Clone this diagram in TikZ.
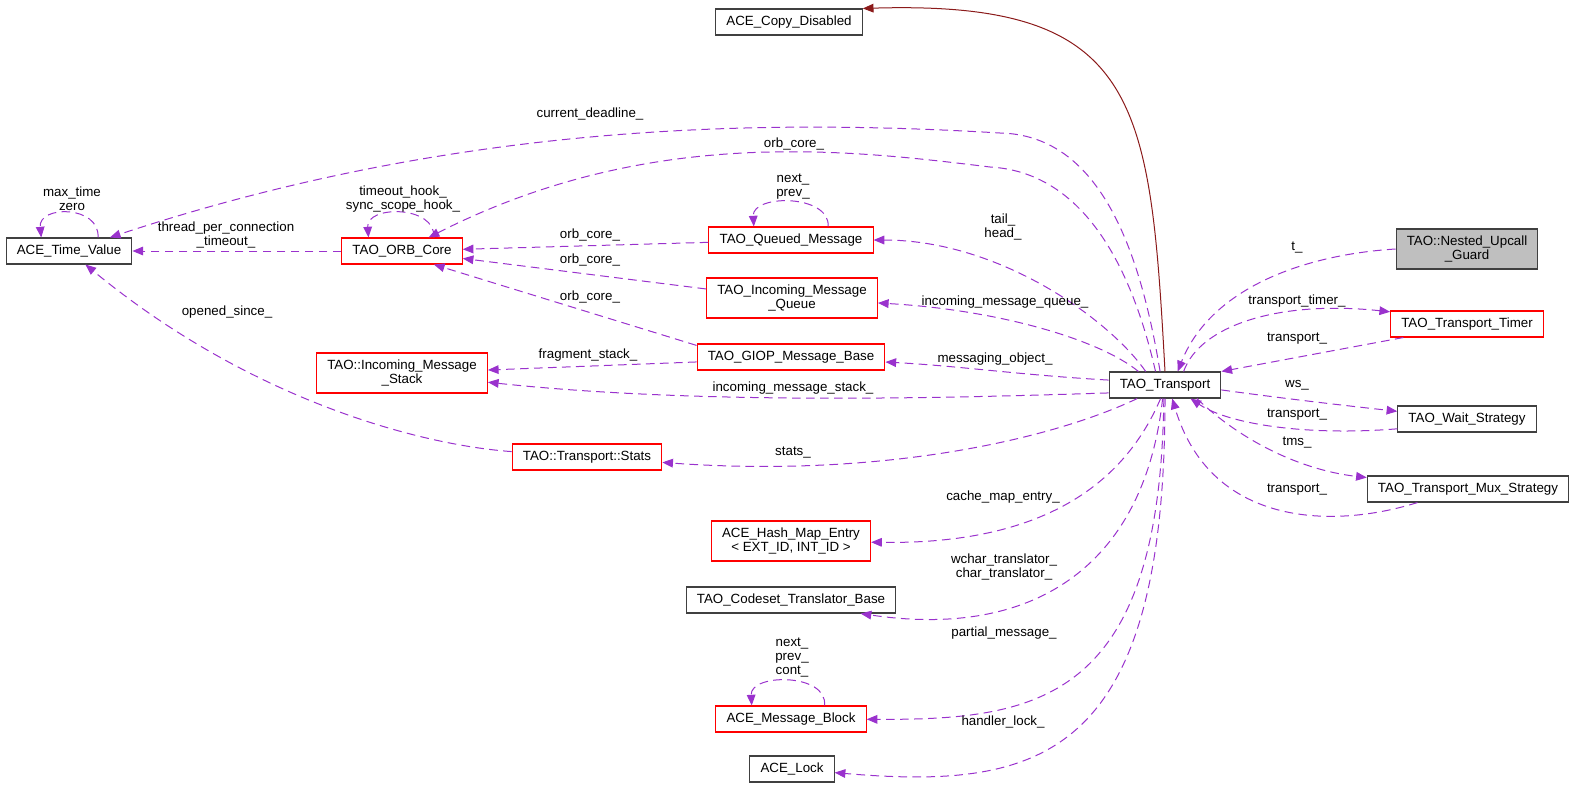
\documentclass[tikz,border=0pt]{standalone}
\usepackage{fontspec}
\setmainfont{Liberation Sans}
\usetikzlibrary{arrows.meta}
\definecolor{edgegray}{HTML}{404040}
\definecolor{memberpurple}{HTML}{9A32CD}
\definecolor{inheritred}{HTML}{8B1A1A}
\definecolor{focusgray}{HTML}{BFBFBF}
\newcommand{\lblfont}{\fontsize{10}{10.5}\selectfont}
\tikzstyle{cls} = [draw=edgegray, line width=0.8pt, fill=white, rectangle,
    inner xsep=8pt, inner ysep=0pt, minimum height=19.5pt, align=center, font=\lblfont]
\tikzstyle{clsred} = [cls, draw=red]
\tikzstyle{clsfocus} = [cls, fill=focusgray]
\tikzstyle{tall} = [minimum height=30pt]
\tikzstyle{member} = [->, draw=memberpurple, line width=0.75pt, dash pattern=on 6.5pt off 4pt]
\tikzstyle{inherit} = [->, draw=inheritred, line width=0.75pt]
\tikzstyle{lbl} = [font=\lblfont, align=center, inner sep=0pt]

\begin{document}
\begin{tikzpicture}[x=0.75pt,y=-0.75pt,>={Triangle[length=8pt,width=6.5pt]}]
    \useasboundingbox (0,0) rectangle (1573,789);
    \node [cls] (copy) at (789,22) {ACE\_Copy\_Disabled};
    \node [cls] (timevalue) at (69,251) {ACE\_Time\_Value};
    \node [clsred] (orbcore) at (402,251) {TAO\_ORB\_Core};
    \node [clsred, tall] (msgstack) at (402,373) {TAO::Incoming\_Message\\\_Stack};
    \node [clsred] (queued) at (791,240) {TAO\_Queued\_Message};
    \node [clsred, tall] (inqueue) at (792,298) {TAO\_Incoming\_Message\\\_Queue};
    \node [clsred] (giop) at (791,357) {TAO\_GIOP\_Message\_Base};
    \node [clsred] (stats) at (587,457) {TAO::Transport::Stats};
    \node [cls] (transport) at (1165,385) {TAO\_Transport};
    \node [clsfocus, tall] (guard) at (1467,249) {TAO::Nested\_Upcall\\\_Guard};
    \node [clsred] (timer) at (1467,324) {TAO\_Transport\_Timer};
    \node [cls] (wait) at (1467,419) {TAO\_Wait\_Strategy};
    \node [cls] (mux) at (1468,489) {TAO\_Transport\_Mux\_Strategy};
    \node [clsred, tall] (hashmap) at (791,541) {ACE\_Hash\_Map\_Entry\\< EXT\_ID, INT\_ID >};
    \node [cls] (codeset) at (791,600) {TAO\_Codeset\_Translator\_Base};
    \node [clsred] (msgblock) at (791,719) {ACE\_Message\_Block};
    \node [cls] (lock) at (792,769) {ACE\_Lock};
    % inheritance
    \draw [inherit] (transport.north) .. controls (1150,100) and (1140,0) .. (copy.north east);
    % members of TAO_Transport, upper side
    \draw [member] (transport.110) .. controls (1140,250) and (1100,135) .. (1000,133)
        .. controls (750,118) and (450,125) .. (timevalue) node [lbl, at={(590,114)}] {current\_deadline\_};
    \draw [member] (transport.125) .. controls (1130,260) and (1080,172) .. (990,167)
        .. controls (850,150) and (650,125) .. (orbcore) node [lbl, at={(794,144)}] {orb\_core\_};
    \draw [member] (transport.145) .. controls (1110,320) and (1000,240) .. (queued) node [lbl, at={(1003,227)}] {tail\_\\head\_};
    \draw [member] (transport.153) .. controls (1100,340) and (1000,310) .. (inqueue) node [lbl, at={(1005,302)}] {incoming\_message\_queue\_};
    \draw [member] (transport.175) .. controls (1020,375) and (960,366) .. (giop) node [lbl, at={(995,359)}] {messaging\_object\_};
    \draw [member] (transport.188) .. controls (950,398) and (700,405) .. (msgstack) node [lbl, at={(793,388)}] {incoming\_message\_stack\_};
    \draw [member] (transport.-154) .. controls (1050,440) and (880,478) .. (stats) node [lbl, at={(793,453)}] {stats\_};
    % members of TAO_Transport, right side
    \draw [member] (guard.west) .. controls (1300,255) and (1210,290) .. (transport.47) node [lbl, at={(1297,248)}] {t\_};
    \draw [member] (transport.36) .. controls (1200,325) and (1280,300) .. (timer.171) node [lbl, at={(1297,301)}] {transport\_timer\_};
    \draw [member] (timer.-168) -- (transport.north east) node [lbl, at={(1297,339)}] {transport\_};
    \draw [member] (transport.-5) .. controls (1280,398) and (1340,405) .. (wait) node [lbl, at={(1297,385)}] {ws\_};
    \draw [member] (wait.-172) .. controls (1310,436) and (1230,425) .. (transport.-28) node [lbl, at={(1297,415)}] {transport\_};
    \draw [member] (transport.-23) .. controls (1240,440) and (1300,470) .. (mux) node [lbl, at={(1297,443)}] {tms\_};
    \draw [member] (mux.-165) .. controls (1330,530) and (1210,525) .. (transport.-62) node [lbl, at={(1297,490)}] {transport\_};
    % members of TAO_Transport, lower side
    \draw [member] (transport.-108) .. controls (1130,470) and (1060,545) .. (hashmap) node [lbl, at={(1003,497)}] {cache\_map\_entry\_};
    \draw [member] (transport.-100) .. controls (1145,560) and (1040,640) .. (codeset.-11) node [lbl, at={(1004,567)}] {wchar\_translator\_\\char\_translator\_};
    \draw [member] (transport.-95) .. controls (1160,700) and (1040,720) .. (msgblock) node [lbl, at={(1004,633)}] {partial\_message\_};
    \draw [member] (transport.-90) .. controls (1165,760) and (1040,790) .. (lock) node [lbl, at={(1003,722)}] {handler\_lock\_};
    % other members
    \draw [member] (orbcore) -- (timevalue) node [lbl, at={(226,235)}] {thread\_per\_connection\\\_timeout\_};
    \draw [member] (stats) .. controls (420,445) and (250,400) .. (timevalue) node [lbl, at={(227,312)}] {opened\_since\_};
    \draw [member] (queued) -- (orbcore) node [lbl, at={(590,235)}] {orb\_core\_};
    \draw [member] (inqueue.174) -- (orbcore.-7) node [lbl, at={(590,260)}] {orb\_core\_};
    \draw [member] (giop.173) -- (orbcore.-23) node [lbl, at={(590,297)}] {orb\_core\_};
    \draw [member] (giop.-177) -- (msgstack.2) node [lbl, at={(588,355)}] {fragment\_stack\_};
    % self references
    \draw [member] (timevalue.25) .. controls (100,205) and (38,205) .. (timevalue.154) node [lbl, at={(72,199)}] {max\_time\\zero};
    \draw [member] (orbcore.23) .. controls (436,205) and (366,205) .. (orbcore.158) node [lbl, at={(403,199)}] {timeout\_hook\_\\sync\_scope\_hook\_};
    \draw [member] (queued.20) .. controls (830,194) and (752,194) .. (queued.160) node [lbl, at={(793,187)}] {next\_\\prev\_};
    \draw [member] (msgblock.22) .. controls (828,673) and (750,673) .. (msgblock.161) node [lbl, at={(792,658)}] {next\_\\prev\_\\cont\_};
\end{tikzpicture}
\end{document}
